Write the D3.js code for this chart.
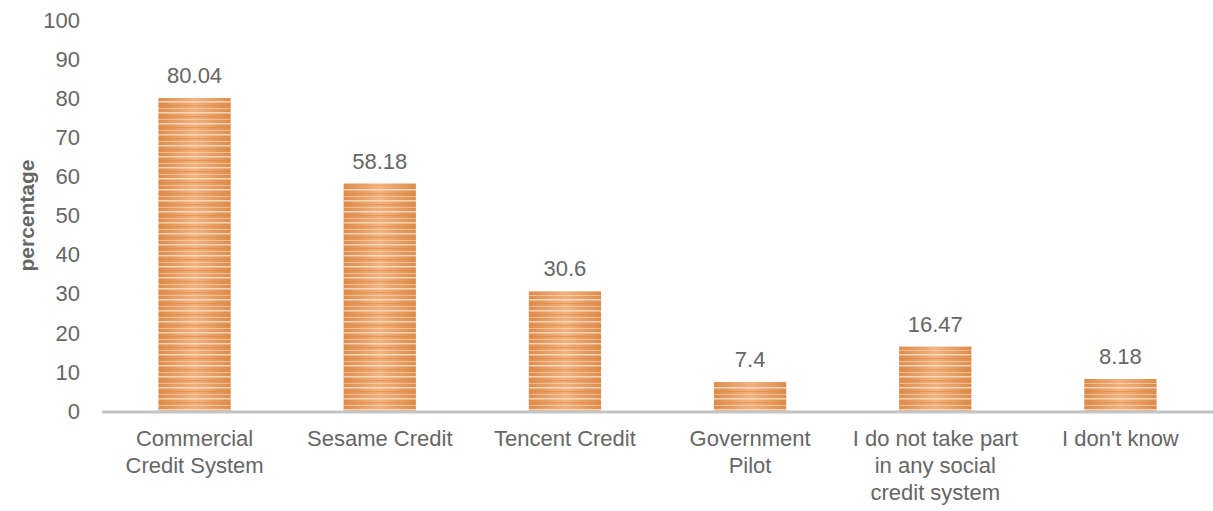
<!DOCTYPE html>
<html lang="en">
<head>
<meta charset="utf-8">
<title>Social credit system participation</title>
<script src="https://d3js.org/d3.v7.min.js"></script>
<style>
  body { margin: 0; background: #fff; }
  svg text { font-family: "Liberation Sans", Arial, sans-serif; fill: #666; }
</style>
</head>
<body>
<svg id="chart" width="1213" height="511"></svg>
<script>
const categories = [
  ["Commercial", "Credit System"],
  ["Sesame Credit"],
  ["Tencent Credit"],
  ["Government", "Pilot"],
  ["I do not take part", "in any social", "credit system"],
  ["I don't know"]
];
const values = [80.04, 58.18, 30.6, 7.4, 16.47, 8.18];
const valueLabels = ["80.04", "58.18", "30.6", "7.4", "16.47", "8.18"];
const yTicks = [0, 10, 20, 30, 40, 50, 60, 70, 80, 90, 100];

const svg = d3.select("#chart");
const plotLeft = 102, plotRight = 1213, plotTop = 20, plotBottom = 411;

const x = d3.scaleBand().domain(d3.range(values.length)).range([plotLeft, plotRight]).paddingInner(0.61).paddingOuter(0.305);
const y = d3.scaleLinear().domain([0, 100]).range([plotBottom, plotTop]);

// bar fill: horizontal shading plus stripes
const defs = svg.append("defs");
const grad = defs.append("linearGradient").attr("id", "shade").attr("x1", 0).attr("x2", 1).attr("y1", 0).attr("y2", 0);
grad.append("stop").attr("offset", "0%").attr("stop-color", "#dc8c4c");
grad.append("stop").attr("offset", "50%").attr("stop-color", "#f2b27f");
grad.append("stop").attr("offset", "100%").attr("stop-color", "#dc8c4c");
const pat = defs.append("pattern").attr("id", "stripes").attr("patternUnits", "userSpaceOnUse")
  .attr("width", 10).attr("height", 11);
pat.append("rect").attr("width", 10).attr("height", 1.5).attr("y", 2).attr("fill", "#fde4cf").attr("opacity", 0.8);
pat.append("rect").attr("width", 10).attr("height", 1.2).attr("y", 6).attr("fill", "#e3883a").attr("opacity", 0.6);
pat.append("rect").attr("width", 10).attr("height", 1).attr("y", 9).attr("fill", "#fbd9bb").attr("opacity", 0.6);

// y axis tick labels
svg.append("g").selectAll("text").data(yTicks).enter().append("text")
  .attr("x", 80).attr("y", d => y(d)).attr("dy", "0.35em")
  .attr("text-anchor", "end").style("font-size", "22px").text(d => d);

// y title
svg.append("text").attr("transform", `translate(34,${(plotTop + plotBottom) / 2}) rotate(-90)`)
  .attr("text-anchor", "middle").style("font-size", "21px").style("font-weight", "bold")
  .text("percentage");

// bars
const bars = svg.append("g");
bars.selectAll("rect.base").data(values).enter().append("rect").attr("class", "base")
  .attr("x", (d, i) => x(i)).attr("width", x.bandwidth())
  .attr("y", d => y(d)).attr("height", d => y(0) - y(d))
  .attr("fill", "url(#shade)");
bars.selectAll("rect.str").data(values).enter().append("rect").attr("class", "str")
  .attr("x", (d, i) => x(i)).attr("width", x.bandwidth())
  .attr("y", d => y(d) + 3).attr("height", d => Math.max(0, y(0) - y(d) - 3))
  .attr("fill", "url(#stripes)");

// value labels
svg.append("g").selectAll("text").data(values).enter().append("text")
  .attr("x", (d, i) => x(i) + x.bandwidth() / 2).attr("y", d => y(d) - 15)
  .attr("text-anchor", "middle").style("font-size", "22px").text((d, i) => valueLabels[i]);

// x axis line
svg.append("line").attr("x1", plotLeft).attr("x2", plotRight).attr("y1", plotBottom + 1).attr("y2", plotBottom + 1)
  .attr("stroke", "#c4c4c4").attr("stroke-width", 3);

// category labels
const cat = svg.append("g").selectAll("text").data(categories).enter().append("text")
  .attr("x", (d, i) => x(i) + x.bandwidth() / 2).attr("y", 446)
  .attr("text-anchor", "middle").style("font-size", "22px");
cat.selectAll("tspan").data(d => d).enter().append("tspan")
  .attr("x", function () { return d3.select(this.parentNode).attr("x"); })
  .attr("dy", (d, j) => j === 0 ? 0 : 27).text(d => d);
</script>
</body>
</html>
